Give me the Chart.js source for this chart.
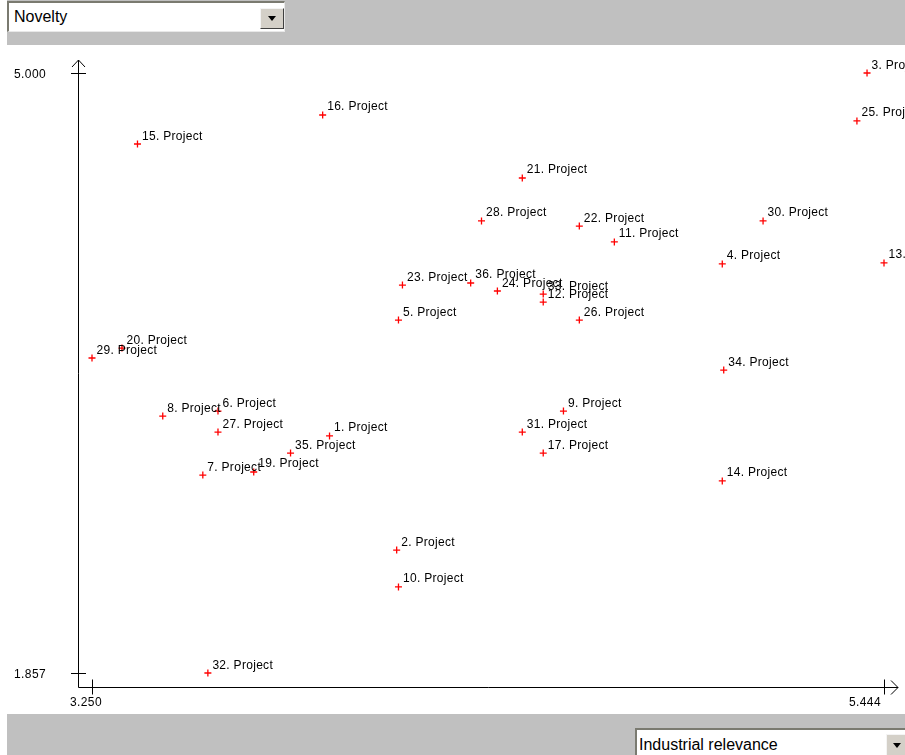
<!DOCTYPE html>
<html>
<head>
<meta charset="utf-8">
<script src="https://cdn.jsdelivr.net/npm/chart.js@4.4.1/dist/chart.umd.min.js"></script>
<style>
html,body{margin:0;padding:0;background:#fff;width:905px;height:755px;overflow:hidden;font-family:"Liberation Sans",Arial,sans-serif;}
#topbar{position:absolute;left:7px;top:0;width:898px;height:45px;background:#c0c0c0;}
#botbar{position:absolute;left:7px;top:714px;width:898px;height:41px;background:#c0c0c0;}
.sel{position:absolute;background:#fff;box-sizing:border-box;border-left:2px solid #7a7a70;border-top:2px solid #7a7a70;border-right:1px solid #e8e8e8;border-bottom:1px solid #e8e8e8;font-size:16px;color:#000;white-space:nowrap;}
.sel .txt{position:absolute;left:5px;top:5px;line-height:18px;}
.btn{position:absolute;background:#d4d0c8;box-sizing:border-box;border:1px solid;border-color:#f4f4f4 #404040 #404040 #f4f4f4;}
.tri{position:absolute;width:0;height:0;border-left:4px solid transparent;border-right:4px solid transparent;border-top:5px solid #000;}
#wrap{position:absolute;left:0;top:45px;width:905px;height:669px;}
</style>
</head>
<body>
<div id="topbar"></div>
<div class="sel" style="left:7px;top:1px;width:278px;height:31px;">
  <span class="txt">Novelty</span>
  <div class="btn" style="left:251px;top:5px;width:24px;height:21px;"><div class="tri" style="left:7px;top:7px;"></div></div>
</div>
<div id="botbar"></div>
<div class="sel" style="left:635px;top:728px;width:280px;height:30px;">
  <span class="txt" style="left:2px;top:6px;">Industrial relevance</span>
  <div class="btn" style="left:249px;top:4px;width:24px;height:24px;"><div class="tri" style="left:6px;top:8px;"></div></div>
</div>
<div id="wrap"><canvas id="c" width="905" height="669"></canvas></div>
<script>
// ---- data ----
const projectNames = [
  "1. Project","2. Project","3. Project","4. Project","5. Project","6. Project",
  "7. Project","8. Project","9. Project","10. Project","11. Project","12. Project",
  "13. Project","14. Project","15. Project","16. Project","17. Project","19. Project",
  "20. Project","21. Project","22. Project","23. Project","24. Project","25. Project",
  "26. Project","27. Project","28. Project","29. Project","30. Project","31. Project",
  "32. Project","33. Project","34. Project","35. Project","36. Project"
];
// x: Industrial relevance
const industrialRelevance = [
  3.908,4.094,5.397,4.996,4.099,3.599,
  3.557,3.446,4.556,4.099,4.697,4.500,
  5.444,4.996,3.376,3.889,4.500,3.698,
  3.333,4.442,4.600,4.110,4.373,5.369,
  4.600,3.599,4.329,3.250,5.109,4.442,
  3.571,4.500,5.000,3.800,4.299
];
// y: Novelty
const novelty = [
  3.099,2.501,5.000,4.000,3.706,3.229,
  2.894,3.203,3.229,2.308,4.115,3.800,
  4.005,2.863,4.628,4.780,3.009,2.910,
  3.559,4.450,4.198,3.889,3.858,4.749,
  3.706,3.119,4.225,3.507,4.225,3.119,
  1.857,3.842,3.444,3.009,3.900
];
const xTickLabels = ["3.250","5.444"];
const yTickLabels = ["1.857","5.000"];

const xMin = parseFloat(xTickLabels[0]), xMax = parseFloat(xTickLabels[1]);
const yMin = parseFloat(yTickLabels[0]), yMax = parseFloat(yTickLabels[1]);

const points = industrialRelevance.map((x,i)=>({x:x, y:novelty[i]}));

const axesPlugin = {
  id:'axesPlugin',
  afterDraw(chart){
    const ctx = chart.ctx, xs = chart.scales.x, ys = chart.scales.y;
    const ax = Math.round(xs.left) - 14 + 0.5;   // vertical axis line
    const ay = Math.round(ys.bottom) + 14 + 0.5; // horizontal axis line
    ctx.save();
    ctx.strokeStyle = '#000';
    ctx.lineWidth = 1;
    ctx.beginPath();
    // y axis
    ctx.moveTo(ax, ay); ctx.lineTo(ax, ys.top - 13);
    ctx.moveTo(ax - 6.5, ys.top - 6); ctx.lineTo(ax, ys.top - 13); ctx.lineTo(ax + 6.5, ys.top - 6);
    // x axis
    ctx.moveTo(ax, ay); ctx.lineTo(xs.right + 14, ay);
    ctx.moveTo(xs.right + 7, ay - 7); ctx.lineTo(xs.right + 14, ay); ctx.lineTo(xs.right + 7, ay + 7);
    // y ticks
    yTickLabels.forEach(t=>{
      const py = Math.round(ys.getPixelForValue(parseFloat(t))) + 0.5;
      ctx.moveTo(ax - 7.5, py); ctx.lineTo(ax + 7.5, py);
    });
    // x ticks
    xTickLabels.forEach(t=>{
      const px = Math.round(xs.getPixelForValue(parseFloat(t))) + 0.5;
      ctx.moveTo(px, ay - 8); ctx.lineTo(px, ay + 7);
    });
    ctx.stroke();
    // tick labels
    ctx.fillStyle = '#000';
    ctx.font = '12px "Liberation Sans", Arial, sans-serif';
    ctx.letterSpacing = '0.4px';
    ctx.textAlign = 'left';
    ctx.textBaseline = 'middle';
    yTickLabels.forEach(t=>{
      const py = ys.getPixelForValue(parseFloat(t));
      ctx.fillText(t, 14, py + 1.5);
    });
    const xOff = [-6, -19];
    ctx.textAlign = 'center';
    xTickLabels.forEach((t,i)=>{
      const px = xs.getPixelForValue(parseFloat(t));
      ctx.fillText(t, px + xOff[i], ay + 15);
    });
    ctx.restore();
  },
  afterDatasetsDraw(chart){
    const ctx = chart.ctx;
    const meta = chart.getDatasetMeta(0);
    ctx.save();
    ctx.fillStyle = '#000';
    ctx.font = '12px "Liberation Sans", Arial, sans-serif';
    ctx.letterSpacing = '0.3px';
    ctx.textAlign = 'left';
    ctx.textBaseline = 'alphabetic';
    meta.data.forEach((el,i)=>{
      ctx.fillText(projectNames[i], el.x + 4.5, el.y - 4.5);
    });
    ctx.restore();
  }
};

new Chart(document.getElementById('c'), {
  type:'scatter',
  data:{
    datasets:[{
      data: points,
      pointStyle:'cross',
      radius:3.5,
      borderColor:'#ff0000',
      backgroundColor:'#ff0000',
      borderWidth:1.3,
      clip:false
    }]
  },
  options:{
    responsive:false,
    devicePixelRatio:1,
    animation:false,
    events:[],
    layout:{padding:{left:0, top:28, right:21, bottom:0}},
    plugins:{legend:{display:false}, tooltip:{enabled:false}},
    scales:{
      x:{type:'linear', min:xMin, max:xMax,
         grid:{display:false, drawTicks:false}, border:{display:false},
         ticks:{display:false},
         afterFit(s){ s.height = 41; }},
      y:{type:'linear', min:yMin, max:yMax,
         grid:{display:false, drawTicks:false}, border:{display:false},
         ticks:{display:false},
         afterFit(s){ s.width = 92; }}
    }
  },
  plugins:[axesPlugin]
});
</script>
</body>
</html>
